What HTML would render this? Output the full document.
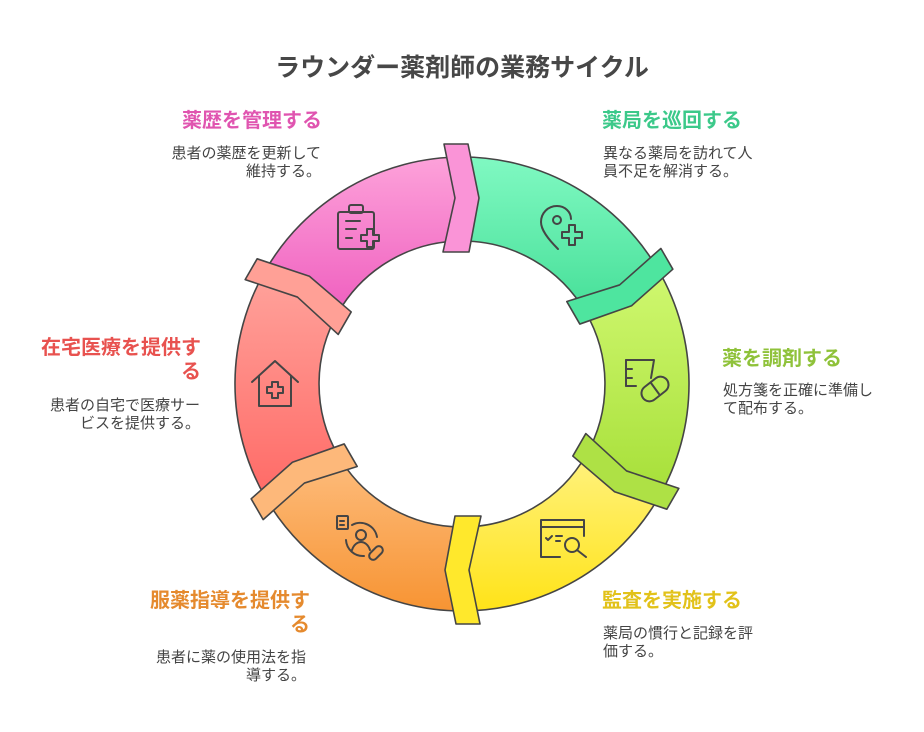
<!DOCTYPE html>
<html><head><meta charset="utf-8">
<style>
html,body{margin:0;padding:0;background:#fff;}
body{width:924px;height:732px;position:relative;overflow:hidden;font-family:"Liberation Sans","Noto Sans CJK JP",sans-serif;color:#444;}
.t{position:absolute;white-space:nowrap;}
.title{left:0;width:924px;top:48px;text-align:center;font-size:25px;font-weight:bold;color:#474747;}
.h{font-size:20px;font-weight:bold;line-height:24px;}
.b{font-size:15px;line-height:18px;color:#444;}
.r{text-align:right;}
</style></head><body>
<div class="t title">ラウンダー薬剤師の業務サイクル</div>

<div class="t h r" style="right:602px;top:109px;color:#e055b0;">薬歴を管理する</div>
<div class="t b r" style="right:603px;top:145px;">患者の薬歴を更新して<br>維持する。</div>

<div class="t h" style="left:602px;top:109px;color:#3cc98a;">薬局を巡回する</div>
<div class="t b" style="left:603px;top:145px;">異なる薬局を訪れて人<br>員不足を解消する。</div>

<div class="t h" style="left:722px;top:347px;color:#8fc23a;">薬を調剤する</div>
<div class="t b" style="left:723px;top:382px;">処方箋を正確に準備し<br>て配布する。</div>

<div class="t h" style="left:602px;top:589px;color:#e2c21a;">監査を実施する</div>
<div class="t b" style="left:603px;top:625px;">薬局の慣行と記録を評<br>価する。</div>

<div class="t h r" style="right:614px;top:589px;color:#e58a2e;">服薬指導を提供す<br>る</div>
<div class="t b r" style="right:618px;top:649px;">患者に薬の使用法を指<br>導する。</div>

<div class="t h r" style="right:723px;top:336px;color:#e8524f;">在宅医療を提供す<br>る</div>
<div class="t b r" style="right:724px;top:397px;">患者の自宅で医療サー<br>ビスを提供する。</div>

<svg width="924" height="732" style="position:absolute;left:0;top:0;" xmlns="http://www.w3.org/2000/svg">
<defs>
<linearGradient id="gp" x1="0" y1="0" x2="0" y2="1"><stop offset="0" stop-color="#fda2da"/><stop offset="1" stop-color="#ef5fbf"/></linearGradient>
<linearGradient id="gg" x1="0" y1="0" x2="0" y2="1"><stop offset="0" stop-color="#80f9c2"/><stop offset="1" stop-color="#46df98"/></linearGradient>
<linearGradient id="gl" x1="0" y1="0" x2="0" y2="1"><stop offset="0" stop-color="#d0f870"/><stop offset="1" stop-color="#a6df38"/></linearGradient>
<linearGradient id="gy" x1="0" y1="0" x2="0" y2="1"><stop offset="0" stop-color="#fff27e"/><stop offset="1" stop-color="#ffe318"/></linearGradient>
<linearGradient id="go" x1="0" y1="0" x2="0" y2="1"><stop offset="0" stop-color="#fdbd7e"/><stop offset="1" stop-color="#f79433"/></linearGradient>
<linearGradient id="gr" x1="0" y1="0" x2="0" y2="1"><stop offset="0" stop-color="#ffa39c"/><stop offset="1" stop-color="#ff6a66"/></linearGradient>
</defs>
<g stroke="#454545" stroke-width="1.6" stroke-linejoin="round">
<path d="M462,157 A227,227 0 0 1 658.6,270.5 L585.8,312.5 A143,143 0 0 0 462,241 Z" fill="url(#gg)"/>
<path d="M658.6,270.5 A227,227 0 0 1 658.6,497.5 L585.8,455.5 A143,143 0 0 0 585.8,312.5 Z" fill="url(#gl)"/>
<path d="M658.6,497.5 A227,227 0 0 1 462,611 L462,527 A143,143 0 0 0 585.8,455.5 Z" fill="url(#gy)"/>
<path d="M462,611 A227,227 0 0 1 265.4,497.5 L338.2,455.5 A143,143 0 0 0 462,527 Z" fill="url(#go)"/>
<path d="M265.4,497.5 A227,227 0 0 1 265.4,270.5 L338.2,312.5 A143,143 0 0 0 338.2,455.5 Z" fill="url(#gr)"/>
<path d="M265.4,270.5 A227,227 0 0 1 462,157 L462,241 A143,143 0 0 0 338.2,312.5 Z" fill="url(#gp)"/>
<polygon points="444,144 468,144 479,198 469,252 443,252 455,198" fill="#fa94d7"/>
<polygon points="444,144 468,144 479,198 469,252 443,252 455,198" fill="#4ee59f" transform="rotate(60 462 384)"/>
<polygon points="444,144 468,144 479,198 469,252 443,252 455,198" fill="#aee145" transform="rotate(120 462 384)"/>
<polygon points="444,144 468,144 479,198 469,252 443,252 455,198" fill="#ffe82c" transform="rotate(180 462 384)"/>
<polygon points="444,144 468,144 479,198 469,252 443,252 455,198" fill="#fdb87a" transform="rotate(240 462 384)"/>
<polygon points="444,144 468,144 479,198 469,252 443,252 455,198" fill="#ffa096" transform="rotate(300 462 384)"/>
</g>
<g fill="none" stroke="#454545" stroke-width="2" stroke-linecap="round" stroke-linejoin="round">
<rect x="338" y="212" width="36" height="37" rx="2"/>
<rect x="349" y="205" width="14" height="8" rx="2"/>
<line x1="346" y1="221" x2="360" y2="221"/><line x1="346" y1="229" x2="356" y2="229"/><line x1="346" y1="238" x2="352" y2="238"/>
<path d="M367,229 h6 v6 h6 v6 h-6 v6 h-6 v-6 h-6 v-6 h6 z" fill="#f77fcc"/>
<path d="M558,249 C548,239 541,230 541,222 C541,213 548,206 557,206 C565,206 571,212 571,219"/>
<circle cx="557" cy="220" r="4"/>
<path d="M569,225 h6 v7 h7 v6 h-7 v7 h-6 v-7 h-7 v-6 h7 z" fill="#62ebad"/>
<path d="M626,360 h28 l-3,18"/><line x1="626" y1="360" x2="626" y2="386"/><line x1="626" y1="386" x2="636" y2="386"/>
<line x1="626" y1="369" x2="632" y2="369"/><line x1="626" y1="378" x2="632" y2="378"/>
<rect x="640" y="381" width="30" height="16" rx="8" transform="rotate(-38 655 389)"/>
<line x1="651" y1="383" x2="659" y2="394"/>
<path d="M560,557 h-19 v-37 h43 v16"/><line x1="541" y1="527" x2="584" y2="527"/>
<path d="M546,538 l2,2 4,-4"/><line x1="556" y1="536" x2="562" y2="536"/><line x1="556" y1="541" x2="560" y2="541"/>
<circle cx="572" cy="545" r="7"/><line x1="577" y1="550" x2="586" y2="557"/>
<rect x="337" y="516" width="11" height="13" rx="1"/><line x1="340" y1="521" x2="344" y2="521"/><line x1="340" y1="525" x2="344" y2="525"/>
<circle cx="361" cy="535" r="5"/><path d="M352,550 c2,-6 6,-8 9,-8 c3,0 7,2 9,8"/>
<path d="M352,525 a17,17 0 0 1 25,12"/><path d="M346,540 a17,17 0 0 0 18,16"/>
<rect x="368" y="549" width="16" height="8" rx="4" transform="rotate(-45 376 553)"/>
<path d="M252,382 l23,-21 23,21"/><path d="M259,376 v30 h32 v-30"/>
<path d="M272,382 h6 v5 h5 v6 h-5 v5 h-6 v-5 h-5 v-6 h5 z"/>
</g>
</svg>
</body></html>
